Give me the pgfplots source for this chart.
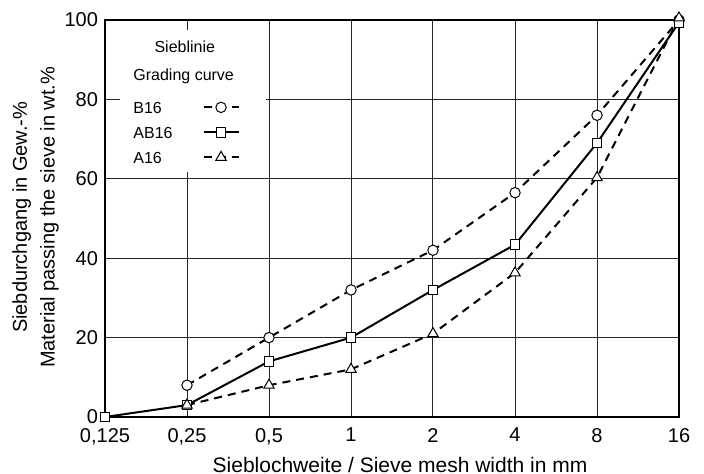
\documentclass[border=0pt]{standalone}
\usepackage{pgfplots}
\pgfplotsset{compat=1.18}
\usepackage{fontspec}
\setmainfont{Liberation Sans}
\begin{document}
\begin{tikzpicture}
\begin{axis}[
  at={(0,0)}, anchor=south west,
  scale only axis, width=287pt, height=198.5pt,
  xmode=log, log basis x=2,
  xmin=0.125, xmax=16, ymin=0, ymax=100,
  xtick={0.125,0.25,0.5,1,2,4,8,16},
  xticklabels={{0,125},{0,25},{0,5},1,2,4,8,16},
  ytick={0,20,40,60,80,100},
  grid=major,
  grid style={line width=0.5pt, black!85},
  major tick length=0pt,
  axis line style={line width=0.8pt},
  tick label style={font=\fontsize{10}{12}\selectfont},
  /pgf/number format/assume math mode=true,
  xticklabel style={yshift=-2pt},
  xlabel={Sieblochweite / Sieve mesh width in mm},
  xlabel style={font=\fontsize{10.5}{12}\selectfont, at={(axis description cs:0.514,-0.121)}, anchor=center},
  ylabel={Siebdurchgang in Gew.-\%\\Material passing the sieve in wt.\%},
  ylabel style={font=\fontsize{10}{13.8}\selectfont, align=center, at={(axis description cs:-0.121,0.503)}, anchor=center},
  clip=false,
  legend plot pos=right,
  legend cell align=left,
  legend image code/.code={\draw[#1, mark repeat=2, mark phase=2] plot coordinates {(0pt,0pt) (8.75pt,0pt) (17.5pt,0pt)};},
  legend style={at={(rel axis cs:0.0488,0.796)}, anchor=north west, draw=none, fill=none,
    inner sep=0pt, row sep=6.5pt, font=\fontsize{8}{10}\selectfont,
    nodes={inner sep=0pt, text height=6pt, text depth=0pt},
    /tikz/every odd column/.append style={column sep=15pt}},
]
\fill[white] (rel axis cs:0.026,0.617) rectangle (rel axis cs:0.2805,0.975);
\node[font=\fontsize{8}{10}\selectfont] at (rel axis cs:0.139,0.932) {Sieblinie};
\node[font=\fontsize{8}{10}\selectfont, anchor=west, inner sep=0pt] at (rel axis cs:0.0488,0.859) {Grading curve};
\addplot[black, line width=1pt, dash pattern=on 4pt off 3pt, mark=*, mark size=2.6pt,
  mark options={solid, fill=white, line width=0.5pt}]
  coordinates {(0.25,8) (0.5,20) (1,32) (2,42) (4,56.5) (8,76) (16,100)};
\addlegendentry{B16}
\addplot[black, line width=1pt, mark=square*, mark size=2.4pt,
  mark options={solid, fill=white, line width=0.5pt}]
  coordinates {(0.125,0) (0.25,3) (0.5,14) (1,20) (2,32) (4,43.4) (8,69) (16,99.4)};
\addlegendentry{AB16}
\addplot[black, line width=1pt, dash pattern=on 4pt off 3pt, mark=triangle*, mark size=3pt,
  mark options={solid, fill=white, line width=0.5pt}]
  coordinates {(0.25,3) (0.5,8) (1,12) (2,21) (4,36.3) (8,60.3) (16,100.5)};
\addlegendentry{A16}
\end{axis}
\pgfresetboundingbox
\useasboundingbox (-52.5pt,-28.5pt) rectangle (299.5pt,208.5pt);
\end{tikzpicture}
\end{document}
